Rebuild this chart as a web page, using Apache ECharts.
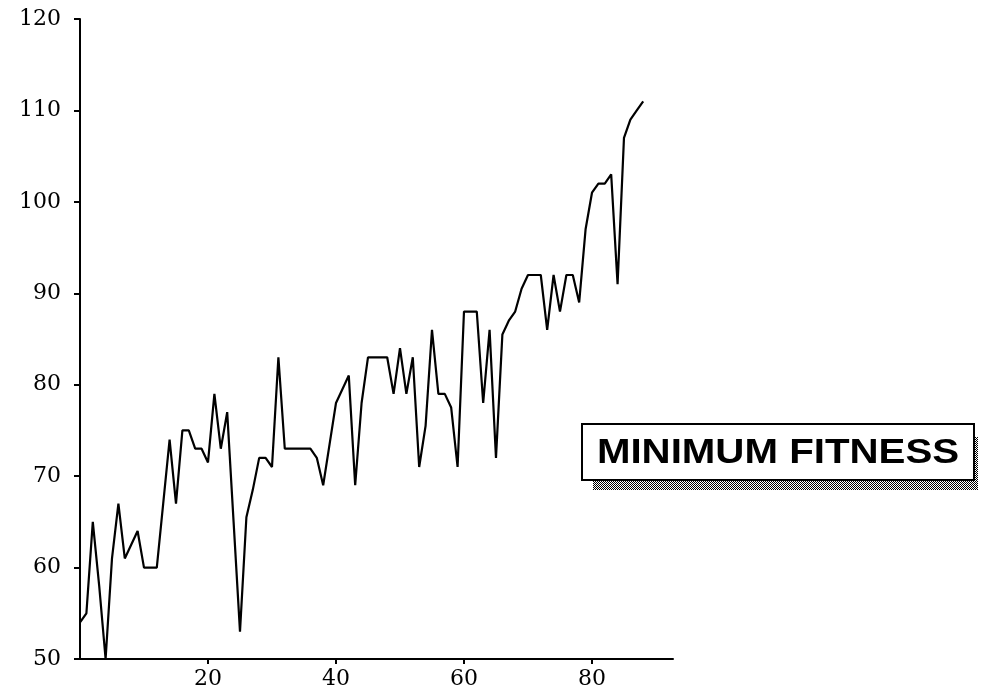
<!DOCTYPE html>
<html>
<head>
<meta charset="utf-8">
<title>Minimum Fitness</title>
<script src="https://cdn.jsdelivr.net/npm/echarts@6/dist/echarts.min.js"></script>
<style>
  html, body { margin: 0; padding: 0; background: #ffffff; }
  #chart { width: 983px; height: 695px; }
</style>
</head>
<body>
<div id="chart"></div>
<script>
// Minimum fitness of the population, one value per generation (generation 0 first)
const minFitness = [
  54, 55, 65, 58, 50, 61, 67, 61, 62.5, 64,
  60, 60, 60, 67, 74, 67, 75, 75, 73, 73,
  71.5, 79, 73, 77, 65, 53, 65.5, 68.5, 72, 72,
  71, 83, 73, 73, 73, 73, 73, 72, 69, 73.5,
  78, 79.5, 81, 69, 78, 83, 83, 83, 83, 79,
  84, 79, 83, 71, 75.5, 86, 79, 79, 77.5, 71,
  88, 88, 88, 78, 86, 72, 85.5, 87, 88, 90.5,
  92, 92, 92, 86, 92, 88, 92, 92, 89, 97,
  101, 102, 102, 103, 91, 107, 109, 110, 111
];

// Axis tick positions and the caption of the curve
const xTicks = [20, 40, 60, 80];
const yTicks = [50, 60, 70, 80, 90, 100, 110, 120];
const captionText = 'MINIMUM FITNESS';

// Pair each value with its generation number
const seriesData = minFitness.map((v, gen) => [gen, v]);

// Small black/white checkerboard used as the halftone drop shadow
function makeHalftone() {
  const c = document.createElement('canvas');
  c.width = 2; c.height = 2;
  const ctx = c.getContext('2d');
  ctx.fillStyle = '#ffffff';
  ctx.fillRect(0, 0, 2, 2);
  ctx.fillStyle = '#000000';
  ctx.fillRect(0, 0, 1, 1);
  ctx.fillRect(1, 1, 1, 1);
  return c;
}

const chart = echarts.init(document.getElementById('chart'), null, { renderer: 'canvas' });

const labelFont = { fontFamily: 'DejaVu Serif', fontSize: 22, color: '#000000' };

chart.setOption({
  animation: false,
  backgroundColor: '#ffffff',
  grid: { left: 80, top: 19, width: 593, height: 640, containLabel: false },
  xAxis: {
    type: 'value',
    min: 0,
    max: 92.66,
    interval: 20,
    splitLine: { show: false },
    axisLine: { show: true, onZero: false, lineStyle: { color: '#000000', width: 2 } },
    axisTick: { show: true, length: 5, customValues: xTicks, lineStyle: { color: '#000000', width: 2 } },
    axisLabel: Object.assign({ margin: 9, customValues: xTicks }, labelFont)
  },
  yAxis: {
    type: 'value',
    min: 50,
    max: 120,
    interval: 10,
    splitLine: { show: false },
    axisLine: { show: true, lineStyle: { color: '#000000', width: 2 } },
    axisTick: { show: true, length: 6, customValues: yTicks, lineStyle: { color: '#000000', width: 2 } },
    axisLabel: Object.assign({ margin: 19, customValues: yTicks }, labelFont)
  },
  series: [{
    type: 'line',
    data: seriesData,
    symbol: 'none',
    lineStyle: { color: '#000000', width: 2.2 },
    clip: false
  }],
  graphic: [
    {
      type: 'rect',
      z: 10,
      shape: { x: 593, y: 437, width: 385, height: 53 },
      style: { fill: { image: makeHalftone(), repeat: 'repeat' } }
    },
    {
      type: 'rect',
      z: 11,
      shape: { x: 582, y: 424, width: 392, height: 56 },
      style: { fill: '#ffffff', stroke: '#000000', lineWidth: 2 }
    },
    {
      type: 'text',
      z: 12,
      x: 778,
      y: 453,
      scaleX: 1.15,
      style: {
        text: captionText,
        fontFamily: 'Liberation Sans',
        fontWeight: 'bold',
        fontSize: 35,
        fill: '#000000',
        align: 'center',
        verticalAlign: 'middle'
      }
    }
  ]
});
</script>
</body>
</html>
